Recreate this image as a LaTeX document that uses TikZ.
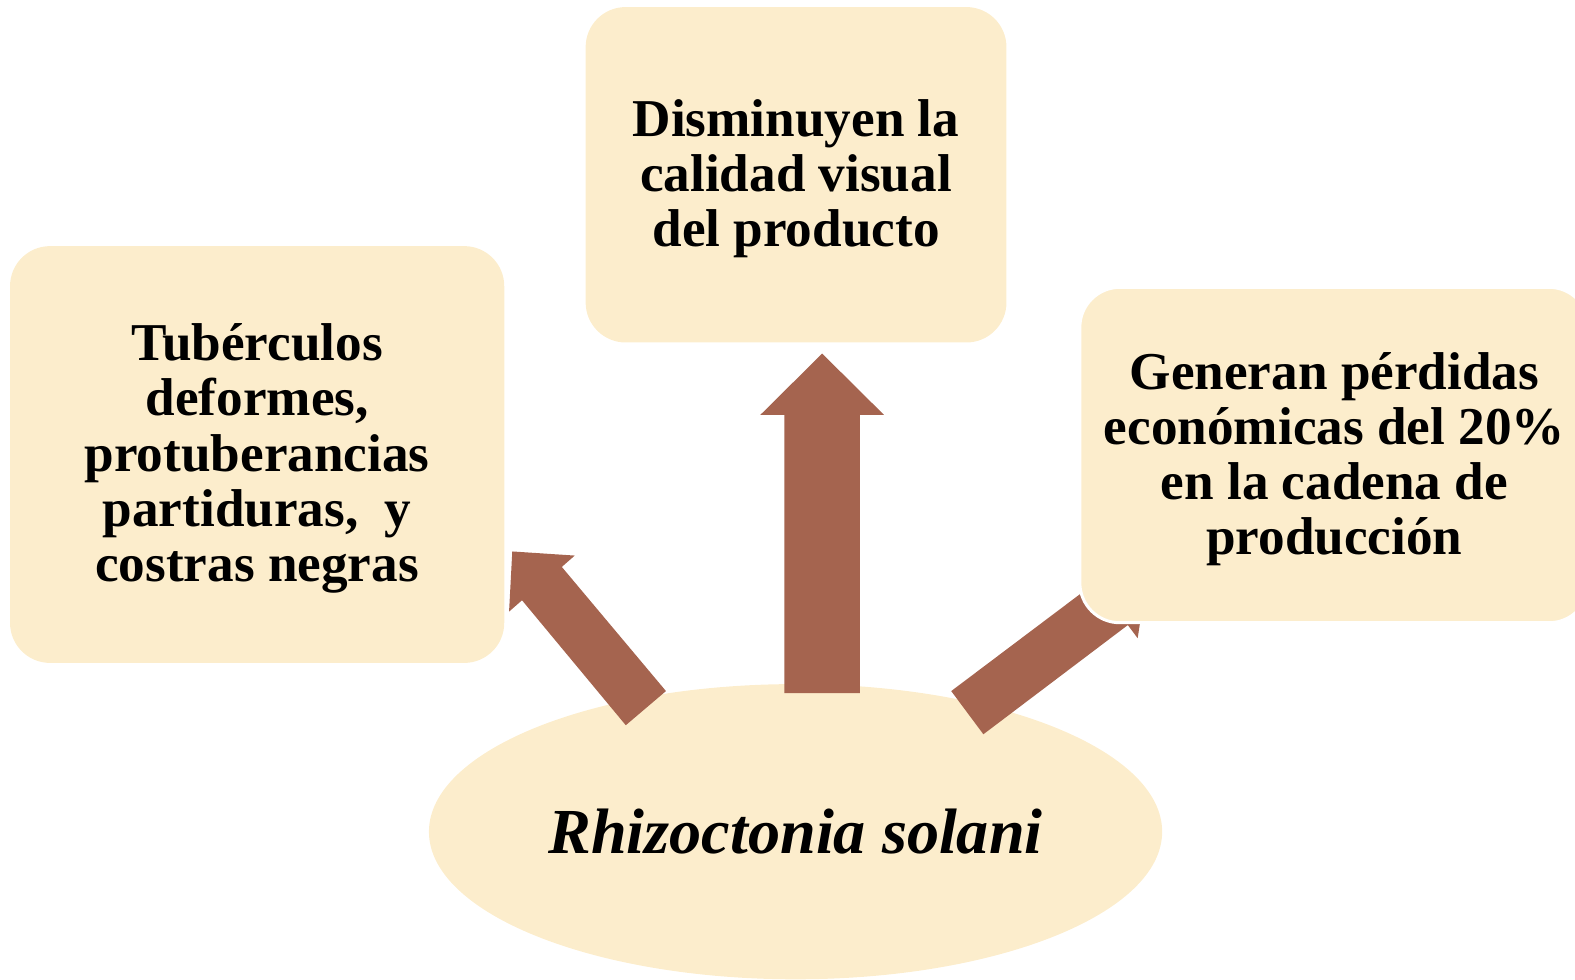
\documentclass[tikz,border=0pt]{standalone}
\usepackage{fontspec}
\setmainfont{Liberation Serif}
\usetikzlibrary{shapes.geometric}
\definecolor{boxfill}{RGB}{252,237,204}
\definecolor{arrowfill}{RGB}{165,100,79}
\begin{document}
\begin{tikzpicture}[x=0.50223pt,y=-0.50223pt,
  card/.style={fill=boxfill,rounded corners=20pt,inner sep=0pt},
  cardtext/.style={inner sep=0pt,align=center,
    font=\bfseries\fontsize{26.6}{27.6}\selectfont},
  blockarrow/.style={fill=arrowfill,draw=none}]
\useasboundingbox (0,0) rectangle (1568,975);
\begin{scope}
\clip (0,0) rectangle (1568,975);
% centre ellipse
\node[ellipse,fill=boxfill,minimum width=366.6pt,minimum height=147.6pt,inner sep=0pt,
  font=\bfseries\itshape\fontsize{32.1}{36}\selectfont] (rs) at (792,828) {Rhizoctonia solani};
% left and top boxes
\node[card,minimum width=247.1pt,minimum height=208.4pt] (left) at (256,452.5) {};
\node[cardtext] (lefttext) at ([yshift=-2pt]left.center)
  {Tubérculos\\deformes,\\protuberancias\\partiduras,\ \ y\\costras negras};
\node[card,minimum width=210.4pt,minimum height=167.7pt] (top) at (792.5,174) {};
\node[cardtext] (toptext) at ([yshift=-2pt]top.center)
  {Disminuyen la\\calidad visual\\del producto};
% up arrow
\fill[blockarrow] (781,690) -- (781,413) -- (757,413) -- (818.5,352) -- (880,413) -- (856,413) -- (856,690) -- cycle;
% left arrow
\fill[blockarrow] (663,688) -- (559.3,564.4) -- (572.2,553.1) -- (510,549) -- (506.8,608.9) -- (519.7,597.6) -- (623,722) -- cycle;
% right arrow
\fill[blockarrow] (947,688) -- (1090.6,579.9) -- (1080.8,566.8) -- (1141.9,574.6) -- (1132.6,635.4) -- (1122.8,622.3) -- (979,731) -- cycle;
% right box with white border
\node[card,draw=white,line width=1.5pt,minimum width=254.6pt,minimum height=167.7pt] (right) at (1328.5,453) {};
\node[cardtext] (righttext) at ([yshift=-2pt]right.center)
  {Generan pérdidas\\económicas del 20\%\\en la cadena de\\producción};
\end{scope}
\end{tikzpicture}
\end{document}
